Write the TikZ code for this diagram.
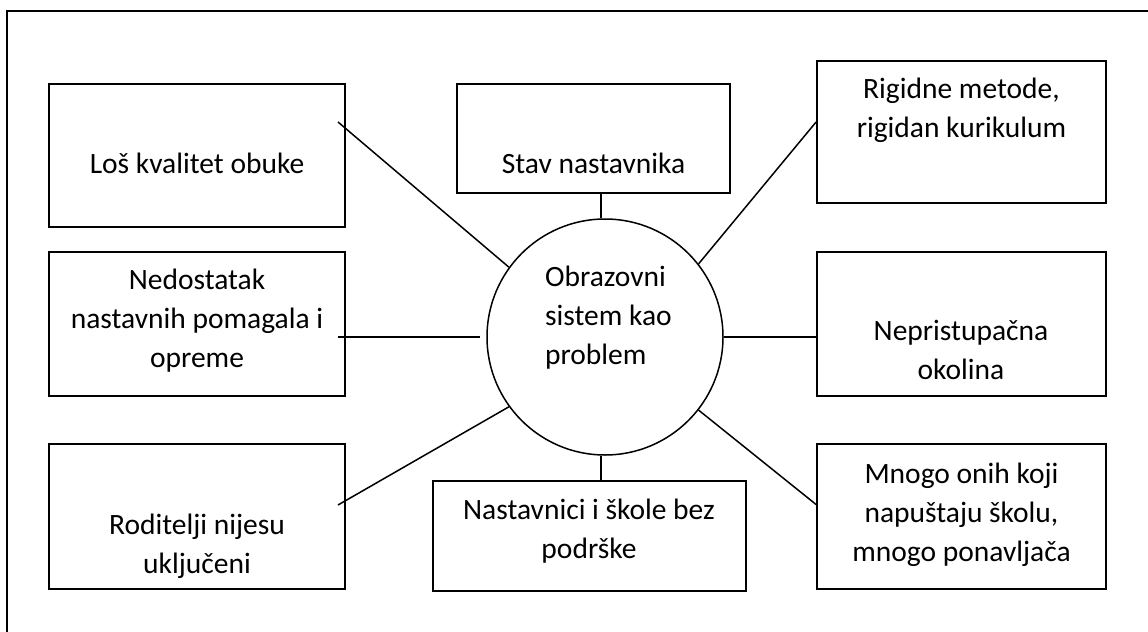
\documentclass[tikz,border=0pt]{standalone}
\usepackage{fontspec}
\setmainfont{Carlito}

\begin{document}
\begin{tikzpicture}
  [x=0.5pt,y=-0.5pt,
   every node/.style={font=\fontsize{14.75}{19.5}\selectfont},
   box/.style={draw,line width=0.9pt,inner sep=0pt},
   txt/.style={align=center,anchor=base},
   link/.style={line width=0.75pt}]
  \useasboundingbox (0,0) rectangle (1148,632);
  \clip (0,0) rectangle (1148,632);
  \draw[line width=1pt] (7,11) rectangle (1170,660);

  % boxes round the centre
  \node[box,minimum width=148pt,minimum height=71.5pt] (los) at (197,155.5) {};
  \node[box,minimum width=136.5pt,minimum height=54.5pt] (stav) at (593.5,138.5) {};
  \node[box,minimum width=144.5pt,minimum height=71pt] (rig) at (961.5,132) {};
  \node[box,minimum width=148pt,minimum height=72pt] (ned) at (197,324) {};
  \node[box,minimum width=144.5pt,minimum height=72pt] (nep) at (961.5,324) {};
  \node[box,minimum width=148pt,minimum height=72.5pt] (rod) at (197,516.5) {};
  \node[box,minimum width=156.5pt,minimum height=55pt] (nas) at (589.5,536) {};
  \node[box,minimum width=144.5pt,minimum height=72.5pt] (mno) at (961.5,516.5) {};
  \node[draw,circle,line width=0.75pt,minimum size=118pt] (sys) at (605,337) {};

  % texts (base = last line)
  \node[txt] (losT) at (197,173) {Loš kvalitet obuke};
  \node[txt] (stavT) at (593.5,173) {Stav nastavnika};
  \node[txt] (rigT) at (961.5,137) {Rigidne metode,\\ rigidan kurikulum};
  \node[txt] (nedT) at (197,367) {Nedostatak\\ nastavnih pomagala i\\ opreme};
  \node[txt] (nepT) at (961,379) {Nepristupačna\\ okolina};
  \node[txt] (rodT) at (197,573) {Roditelji nijesu\\ uključeni};
  \node[txt] (nasT) at (589,558) {Nastavnici i škole bez\\ podrške};
  \node[txt] (mnoT) at (961.5,561) {Mnogo onih koji\\ napuštaju školu,\\ mnogo ponavljača};
  \node[align=left,anchor=base west] (sysT) at (538,364) {Obrazovni\\ sistem kao\\ problem};

  % connectors
  \coordinate (losA) at (338,122);
  \coordinate (nedA) at (338,337);
  \coordinate (rodA) at (338,505);
  \foreach \from/\to in {losA/sys.144,rodA/sys.216}
    \draw[link] (\from) -- (\to);
  \draw[link] (nedA) -- ([xshift=-3pt]sys.west);
  \draw[link] ([xshift=-2pt]sys.north) -- ([xshift=-2pt]sys.north |- stav.south);
  \draw[link] ([xshift=-2pt]sys.south) -- ([xshift=-2pt]sys.south |- nas.north);
  \draw[link] (sys.38.5) -- ([yshift=5pt]rig.west);
  \draw[link] (sys.east) -- (sys.east -| nep.west);
  \draw[link] (sys.322) -- ([yshift=6pt]mno.west);

\end{tikzpicture}
\end{document}
